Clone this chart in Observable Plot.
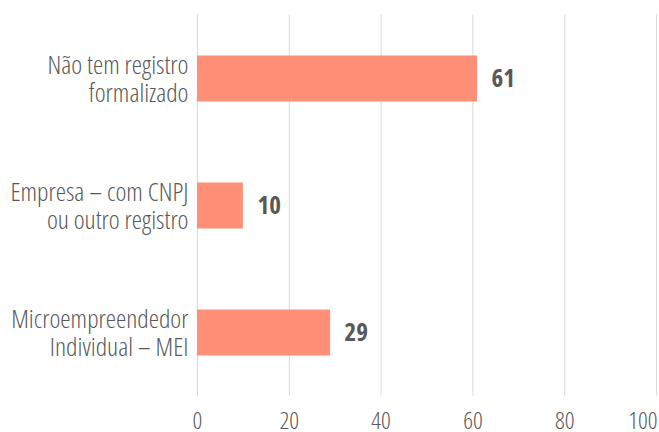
<!DOCTYPE html>
<html><head><meta charset="utf-8">
<script src="https://cdn.jsdelivr.net/npm/d3@7"></script>
<script src="https://cdn.jsdelivr.net/npm/@observablehq/plot@0.6"></script>
<style>
body{margin:0;background:#fff;}
svg text{font-family:"Open Sans",sans-serif;font-stretch:75%;}
</style></head><body><div id="chart"></div>
<script>
const categories = ["Não tem registro\nformalizado", "Empresa – com CNPJ\nou outro registro", "Microempreendedor\nIndividual – MEI"];
const values = [61, 10, 29];
const xTicks = [0, 20, 40, 60, 80, 100];
const data = categories.map((c, i) => ({category: c, value: values[i]}));

const chart = Plot.plot({
  width: 659, height: 432,
  marginLeft: 197, marginRight: 3, marginTop: 14.5, marginBottom: 36.5,
  style: {fontFamily: '"Open Sans",sans-serif', color: "#595959"},
  x: {domain: [0, 100], ticks: xTicks},
  y: {domain: categories, padding: 0},
  marks: [
    Plot.gridX(xTicks, {stroke: "#d9d9d9", strokeOpacity: 1, strokeWidth: 1}),
    Plot.barX(data, {x: "value", y: "category", fill: "#FF9077", insetTop: 40.5, insetBottom: 40.5}),
    Plot.text(data, {x: "value", y: "category", text: d => String(d.value), textAnchor: "start", dx: 14, fontSize: 25, fontWeight: "bold", fill: "#595959"}),
    Plot.axisX(xTicks.slice(0, -1), {tickSize: 0, tickPadding: 16, fontSize: 24, fontWeight: 300, fill: "#595959", label: null}),
    Plot.axisX(xTicks.slice(-1), {tickSize: 0, tickPadding: 16, fontSize: 24, fontWeight: 300, fill: "#595959", label: null, textAnchor: "end", dx: 1}),
    Plot.axisY({tickSize: 0, tickPadding: 9, fontSize: 26, fontWeight: 300, fill: "#595959", label: null, lineHeight: 1.08})
  ]
});
document.getElementById("chart").appendChild(chart);
</script></body></html>
